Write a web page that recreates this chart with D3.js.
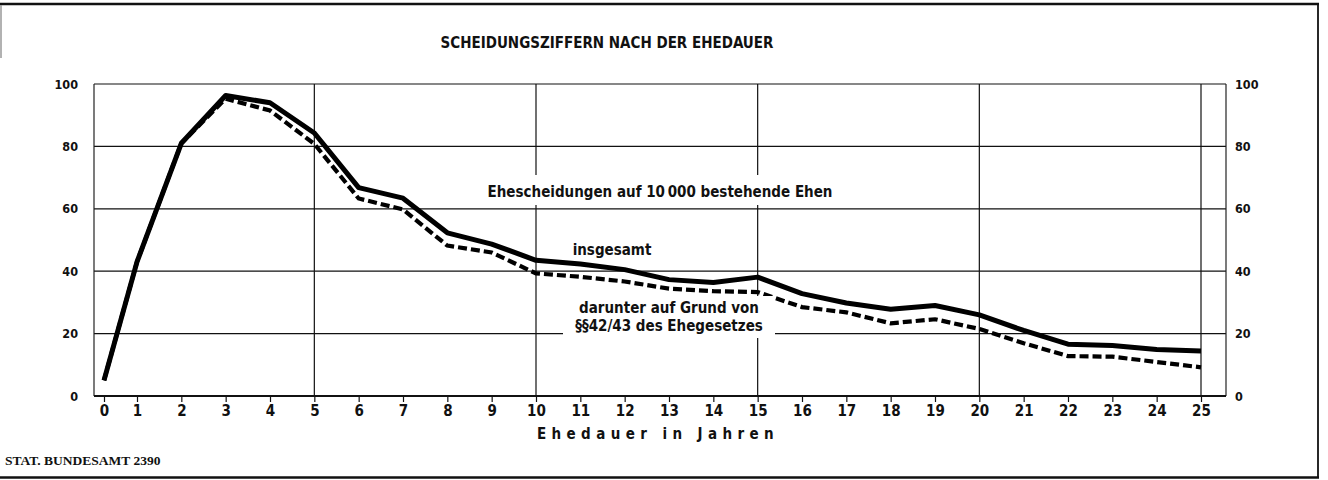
<!DOCTYPE html>
<html><head><meta charset="utf-8">
<script src="https://cdn.jsdelivr.net/npm/d3@7"></script>
<style>
html,body{margin:0;padding:0;background:#fff;}
svg{display:block;}
.lab{font-family:"DejaVu Sans Condensed","DejaVu Sans",sans-serif;fill:#111;}
</style></head>
<body>
<svg id="c" width="1328" height="480"></svg>
<script>
// ---- data ----
const years = d3.range(0, 26);
const insgesamt = [5, 43, 81, 96.3, 94, 84.3, 66.8, 63.4, 52.3, 48.7, 43.5, 42.3, 40.5, 37.3, 36.4, 38.1,
                   32.8, 29.8, 27.8, 29.0, 26.0, 21.0, 16.6, 16.2, 14.9, 14.4];
const paragraf4243 = [5, 43, 81, 95.3, 91.5, 80.8, 63.3, 59.8, 48.2, 46.0, 39.3, 38.2, 36.7, 34.4, 33.6, 33.3,
                      28.5, 26.8, 23.3, 24.6, 21.5, 16.9, 12.8, 12.6, 10.9, 9.2];
const yTicks = [0, 20, 40, 60, 80, 100];
const xGridYears = [5, 10, 15, 20, 25];
const hGridValues = [20, 40, 60, 80, 100];
const titleText = "SCHEIDUNGSZIFFERN NACH DER EHEDAUER";
const xAxisTitle = "Ehedauer in Jahren";
const noteMain = "Ehescheidungen auf 10\u2009000 bestehende Ehen";
const noteTotal = "insgesamt";
const noteSub = ["darunter auf Grund von", "\u00a7\u00a742/43 des Ehegesetzes"];
const source = "STAT. BUNDESAMT 2390";

// ---- layout ----
const svg = d3.select("#c");
const L = 94, R = 1226, T = 84, B = 396;
const x = d3.scaleLinear().domain([0, 1, 25]).range([104, 137, 1201]);
const y = d3.scaleLinear().domain([0, 100]).range([B, T]);

// outer border
svg.append("line").attr("x1", 0).attr("x2", 1319).attr("y1", 4).attr("y2", 4).attr("stroke", "#111").attr("stroke-width", 2.5);
svg.append("line").attr("x1", 0).attr("x2", 1319).attr("y1", 477.5).attr("y2", 477.5).attr("stroke", "#111").attr("stroke-width", 2.5);
svg.append("line").attr("x1", 1318).attr("x2", 1318).attr("y1", 4).attr("y2", 478).attr("stroke", "#111").attr("stroke-width", 1.8);
svg.append("line").attr("x1", 1).attr("x2", 1).attr("y1", 5).attr("y2", 58).attr("stroke", "#999").attr("stroke-width", 1.5);

// title
svg.append("text").attr("class", "lab").attr("x", 607).attr("y", 48)
  .attr("text-anchor", "middle").attr("font-size", 15).attr("font-weight", "bold").text(titleText);

const g = svg.append("g");
// horizontal gridlines
g.selectAll("line.h").data(hGridValues).join("line").attr("class", "h")
  .attr("x1", L).attr("x2", R).attr("y1", d => y(d)).attr("y2", d => y(d))
  .attr("stroke", "#111").attr("stroke-width", 1.2);
// vertical gridlines
g.selectAll("line.v").data(xGridYears).join("line").attr("class", "v")
  .attr("x1", d => x(d)).attr("x2", d => x(d)).attr("y1", T).attr("y2", B)
  .attr("stroke", "#111").attr("stroke-width", 1.2);
// frame left/right
g.append("line").attr("x1", L).attr("x2", L).attr("y1", T).attr("y2", B).attr("stroke", "#222").attr("stroke-width", 1.2);
g.append("line").attr("x1", R).attr("x2", R).attr("y1", T).attr("y2", B).attr("stroke", "#222").attr("stroke-width", 1.2);

// label boxes (white background breaking gridlines)
function note(lines, cx, baselines, size, box) {
  svg.append("rect").attr("x", box[0]).attr("y", box[1]).attr("width", box[2]).attr("height", box[3]).attr("fill", "#fff");
  lines.forEach((t, i) => {
    svg.append("text").attr("class", "lab").attr("x", cx).attr("y", baselines[i])
      .attr("text-anchor", "middle").attr("font-size", size).attr("font-weight", "bold").text(t);
  });
}

// lines
const line = d3.line().x((d, i) => x(years[i])).y(d => y(d));
svg.append("path").datum(paragraf4243).attr("d", line).attr("fill", "none")
  .attr("stroke", "#000").attr("stroke-width", 4.2).attr("stroke-dasharray", "9,4");
svg.append("path").datum(insgesamt).attr("d", line).attr("fill", "none")
  .attr("stroke", "#000").attr("stroke-width", 5).attr("stroke-linejoin", "round");

note([noteMain], 660, [197], 15, [486, 175, 348, 30]);
note([noteTotal], 612, [255], 15, [572, 241, 82, 18]);
note(noteSub, 669, [313, 331], 15, [563, 296, 212, 42]);

// x axis
const xAxis = d3.axisBottom(x).tickValues(years).tickSize(6).tickPadding(3).tickFormat(d3.format("d"));
const gx = svg.append("g").attr("transform", `translate(0,${B})`).call(xAxis);
gx.select(".domain").remove();
gx.append("line").attr("x1", L).attr("x2", R).attr("y1", 0).attr("y2", 0).attr("stroke", "#111").attr("stroke-width", 2);
gx.selectAll(".tick line").attr("stroke", "#111").attr("stroke-width", 1.2);
gx.selectAll(".tick text").attr("fill", "#111").attr("font-size", 15).attr("font-weight", "bold")
  .attr("font-family", "'Liberation Sans Narrow','DejaVu Sans Condensed',sans-serif");

// y axes
const yl = svg.append("g").attr("transform", `translate(${L},0)`)
  .call(d3.axisLeft(y).tickValues(yTicks).tickSize(0).tickPadding(16));
const yr = svg.append("g").attr("transform", `translate(${R},0)`)
  .call(d3.axisRight(y).tickValues(yTicks).tickSize(0).tickPadding(9));
[yl, yr].forEach(a => {
  a.select(".domain").remove();
  a.selectAll(".tick text").attr("fill", "#111").attr("font-size", 12.5).attr("font-weight", "bold")
    .attr("font-family", "'Liberation Sans Narrow','DejaVu Sans Condensed',sans-serif");
});

// x axis title
svg.append("text").attr("class", "lab").attr("x", 658).attr("y", 439).attr("text-anchor", "middle")
  .attr("font-size", 15).attr("font-weight", "bold").attr("letter-spacing", 5.4).text(xAxisTitle);

// source
svg.append("text").attr("x", 5).attr("y", 465).attr("font-family", "'Liberation Serif',serif")
  .attr("font-size", 13.5).attr("font-weight", "bold").attr("fill", "#111").text(source);
</script>
</body></html>
